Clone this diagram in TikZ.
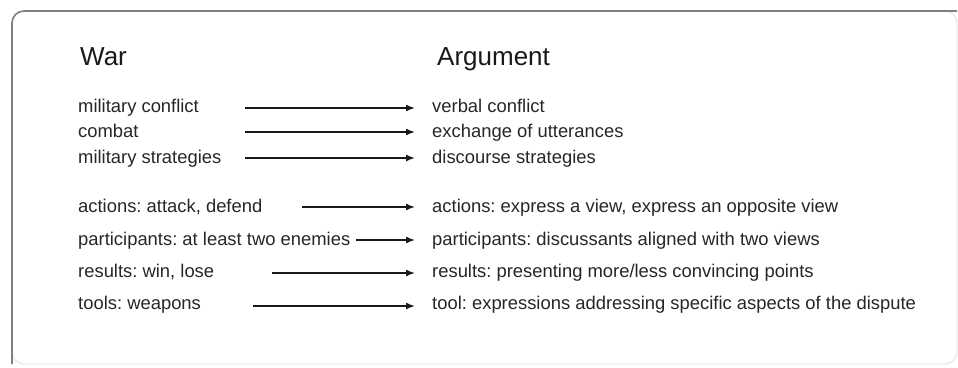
\documentclass[tikz,border=0pt]{standalone}
\usepackage{fontspec}
\setmainfont{Liberation Sans}
\usetikzlibrary{arrows.meta}
\definecolor{txt}{HTML}{262626}
\frenchspacing
\tikzset{
  lbl/.style={anchor=base west, inner sep=0pt, text=txt, font=\frenchspacing\fontsize{18.4}{21}\selectfont},
  head/.style={anchor=base west, inner sep=0pt, text=black!90, font=\fontsize{26}{30}\selectfont},
  conn/.style={draw=black!90, line width=1.5pt, -{Latex[length=9pt,width=7pt]}},
}
\begin{document}
\begin{tikzpicture}[x=1pt,y=-1pt]
\useasboundingbox (0,0) rectangle (958,367);
% frame
\draw[black!10, line width=1pt, rounded corners=12pt] (12,11) rectangle (957,364);
\draw[black!50, line width=1.6pt, rounded corners=12pt] (12,364) -- (12,11) -- (957,11);
% headings
\node[head] (hw) at (80,65) {War};
\node[head] (ha) at (437,65) {Argument};
% left column
\node[lbl] (l1) at (78,112) {military conflict};
\node[lbl] (l2) at (78,137) {combat};
\node[lbl] (l3) at (78,163) {military strategies};
\node[lbl] (l4) at (78,212) {actions: attack, defend};
\node[lbl] (l5) at (78,245) {participants: at least two enemies};
\node[lbl] (l6) at (78,277) {results: win, lose};
\node[lbl] (l7) at (78,309) {tools: weapons};
% right column
\node[lbl] (r1) at (432,112) {verbal conflict};
\node[lbl] (r2) at (432,137) {exchange of utterances};
\node[lbl] (r3) at (432,163) {discourse strategies};
\node[lbl] (r4) at (432,212) {actions: express a view, express an opposite view};
\node[lbl] (r5) at (432,245) {participants: discussants aligned with two views};
\node[lbl] (r6) at (432,277) {results: presenting more/less convincing points};
\node[lbl] (r7) at (432,309) {tool: expressions addressing specific aspects of the dispute};
% arrow end points
\coordinate (s1) at (245,108); \coordinate (e1) at (415,108);
\coordinate (s2) at (245,132); \coordinate (e2) at (415,132);
\coordinate (s3) at (245,158); \coordinate (e3) at (415,158);
\coordinate (s4) at (302,207); \coordinate (e4) at (415,207);
\coordinate (s5) at (356,240); \coordinate (e5) at (415,240);
\coordinate (s6) at (272,273); \coordinate (e6) at (415,273);
\coordinate (s7) at (253,306); \coordinate (e7) at (415,306);
\foreach \i in {1,...,7} \draw[conn] (s\i) -- (e\i);
\end{tikzpicture}
\end{document}
